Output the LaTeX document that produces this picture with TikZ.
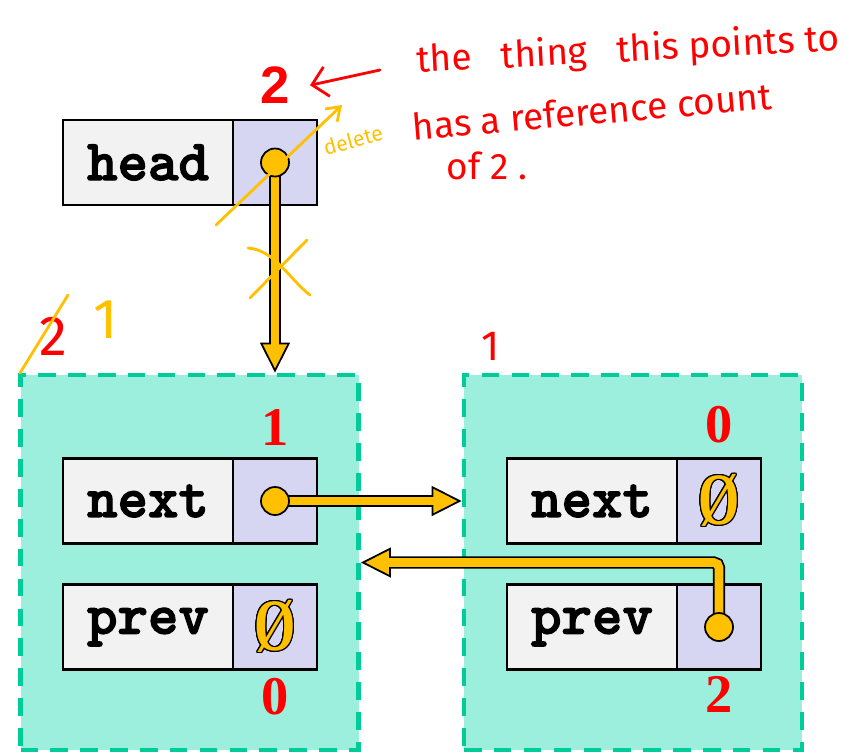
\documentclass[tikz,border=0pt]{standalone}
\usepackage{fontspec}
\usepackage{contour}
\usetikzlibrary{positioning,arrows.meta}

\newfontfamily\codefont{lmmonolt10-bold.otf}[FakeBold=2.2]
\newfontfamily\countfont{Liberation Serif}
\newfontfamily\headfont{Liberation Sans}
\newfontfamily\handfont{Fira Sans}

\definecolor{nodefill}{HTML}{9CEEDD}
\definecolor{nodeedge}{HTML}{00CC99}
\definecolor{fieldfill}{HTML}{F2F2F2}
\definecolor{ptrfill}{HTML}{D6D6F2}
\definecolor{ptryellow}{HTML}{FFC000}
\definecolor{inkred}{HTML}{FF0000}

\contourlength{0.6pt}
\newcommand{\nullsign}{\contour{black}{\textcolor{ptryellow}{\scalebox{0.72}[1]{Ø}}}}

\tikzset{
  listnode/.style={draw=nodeedge, fill=nodefill, line width=2.8pt,
    dash pattern=on 10pt off 7pt, minimum width=6.76cm, minimum height=7.5cm, inner sep=0pt},
  field/.style={draw=black, fill=fieldfill, line width=1.6pt, minimum width=3.4cm,
    minimum height=1.7cm, inner sep=0pt, outer sep=0pt,
    font=\codefont\fontsize{33}{33}\selectfont},
  ptrbox/.style={draw=black, fill=ptrfill, line width=1.6pt, minimum width=1.68cm,
    minimum height=1.7cm, inner sep=0pt, outer sep=0pt},
  count/.style={text=inkred, inner sep=0pt, font=\countfont\bfseries\fontsize{31}{31}\selectfont},
  nullptr/.style={inner sep=0pt, font=\countfont\bfseries\fontsize{42}{42}\selectfont},
  ptrdot/.style={circle, draw=black, fill=ptryellow, line width=1pt, minimum size=0.56cm, inner sep=0pt},
  % yellow pointer arrows: black outline first, yellow core on top
  ptrline/.style={draw=black, line width=7pt,
    -{Triangle[length=17pt, width=17pt, line width=1pt, fill=ptryellow]}},
  ptrcore/.style={draw=ptryellow, line width=5pt, shorten >=14pt},
  redink/.style={draw=inkred, line width=1.6pt, line cap=round},
  yellowink/.style={draw=ptryellow, line width=1.6pt, line cap=round},
  note/.style={text=inkred, inner sep=0pt, font=\handfont\fontsize{21}{21}\selectfont}
}

\begin{document}
\begin{tikzpicture}

    \useasboundingbox (0,0) rectangle (16.9,-15.06);

    % the two list nodes
    \node[listnode] (lnode) at (3.79,-11.25) {};
    \node[listnode] (rnode) at (12.66,-11.25) {};

    % head pointer
    \node[field] (head) at (2.96,-3.25) {head};
    \node[ptrbox, right=0pt of head] (headp) {};

    % fields of the left node
    \node[field] (lnext) at (2.96,-10.02) {next};
    \node[ptrbox, right=0pt of lnext] (lnextp) {};
    \node[field] (lprev) at (2.96,-12.54) {prev};
    \node[ptrbox, right=0pt of lprev] (lprevp) {};
    \node[nullptr] (lprevnull) at (lprevp) {\nullsign};

    % fields of the right node
    \node[field] (rnext) at (11.84,-10.02) {next};
    \node[ptrbox, right=0pt of rnext] (rnextp) {};
    \node[field] (rprev) at (11.84,-12.54) {prev};
    \node[ptrbox, right=0pt of rprev] (rprevp) {};
    \node[nullptr] (rnextnull) at (rnextp) {\nullsign};

    % reference counts
    \node[count, font=\headfont\bfseries\fontsize{30}{30}\selectfont, above=0.32cm of headp] (hcount) {2};
    \node[count, above=0.26cm of lnextp] (lnextcount) {1};
    \node[count, below=0.16cm of lprevp] (lprevcount) {0};
    \node[count, above=0.3cm of rnextp] (rnextcount) {0};
    \node[count, below=0.14cm of rprevp] (rprevcount) {2};

    % pointer arrows
    \draw[ptrline] (headp.center) -- (headp.center |- lnode.north);
    \draw[ptrcore] (headp.center) -- (headp.center |- lnode.north);
    \draw[ptrline] (lnextp.center) -- (lnextp.center -| rnode.west);
    \draw[ptrcore] (lnextp.center) -- (lnextp.center -| rnode.west);
    \draw[ptrline, rounded corners=3pt] (rprevp.center) |- (lnode.east);
    \draw[ptrcore, rounded corners=3pt] (rprevp.center) |- (lnode.east);

    \node[ptrdot] (headdot) at (headp) {};
    \node[ptrdot] (lnextdot) at (lnextp) {};
    \node[ptrdot] (rprevdot) at (rprevp) {};

    % scribbled notes
    \node[note, rotate=3] (note1) at (12.56,-1.02) {the\ \ \ thing\ \ \ this points to};
    \node[note, rotate=5] (note2) at (11.84,-2.22) {has a reference count};
    \node[note] (note3) at (9.74,-3.32) {of 2 .};
    \coordinate (notetail) at (7.6,-1.4);
    \draw[redink, -{Straight Barb[length=0.3cm, width=0.6cm, line width=1.6pt]}]
        (notetail) -- ([xshift=0.4cm]hcount.east);

    % deleting the head pointer
    \draw[yellowink, -{Straight Barb[length=0.25cm, width=0.35cm, line width=1.6pt]}]
        (4.32,-4.5) -- (6.84,-2.1);
    \node[text=ptryellow, rotate=15, inner sep=0pt, font=\handfont\fontsize{12}{12}\selectfont]
        (deltext) at (7.06,-2.8) {delete};
    \draw[yellowink] (4.96,-4.96) .. controls (5.5,-5.0) and (5.8,-5.6) .. (6.2,-5.9);
    \draw[yellowink] (6.14,-4.8) -- (5.0,-5.96);

    % new counts
    \node[note, font=\handfont\fontsize{32}{32}\selectfont] (oldcount) at (1.06,-6.72) {2};
    \draw[yellowink] (1.36,-5.9) -- (0.4,-7.46);
    \node[note, text=ptryellow, font=\handfont\fontsize{32}{32}\selectfont] (newcount) at (2.12,-6.4) {1};
    \node[note, font=\handfont\fontsize{24}{24}\selectfont] (rcount) at (9.82,-6.92) {1};

\end{tikzpicture}
\end{document}
